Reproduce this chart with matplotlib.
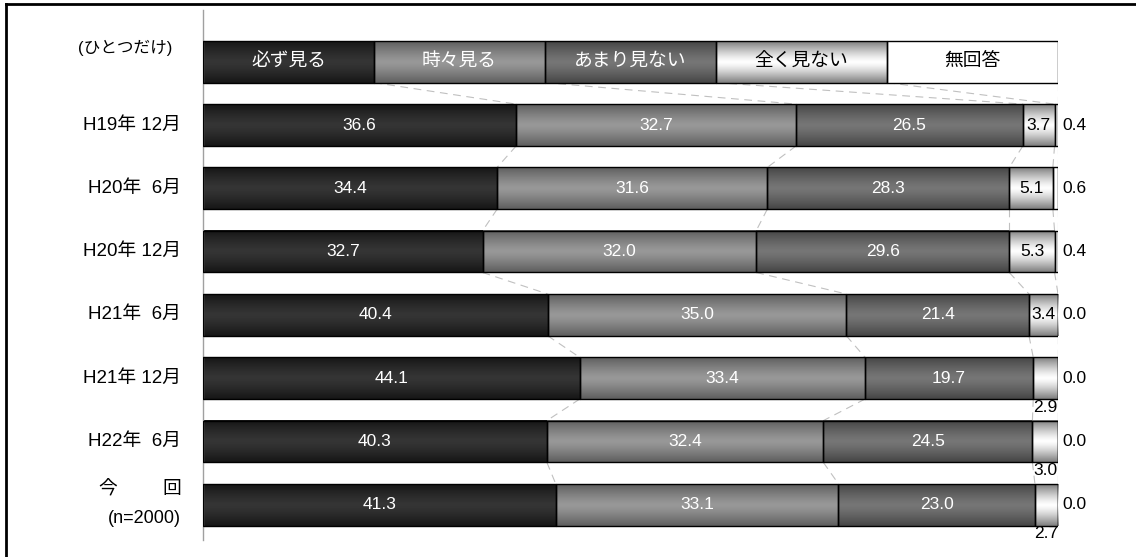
import numpy as np
import matplotlib
matplotlib.use('Agg')
import matplotlib.pyplot as plt
from matplotlib.colors import LinearSegmentedColormap
from matplotlib.patches import Rectangle
from matplotlib.lines import Line2D

plt.rcParams['font.family'] = ['Liberation Sans', 'Noto Sans CJK JP']

# data
categories = ['必ず見る', '時々見る', 'あまり見ない', '全く見ない', '無回答']
rows = ['H19年 12月', 'H20年  6月', 'H20年 12月', 'H21年  6月',
        'H21年 12月', 'H22年  6月', '今回']
kanarazu = [36.6, 34.4, 32.7, 40.4, 44.1, 40.3, 41.3]
tokidoki = [32.7, 31.6, 32.0, 35.0, 33.4, 32.4, 33.1]
amari = [26.5, 28.3, 29.6, 21.4, 19.7, 24.5, 23.0]
mattaku = [3.7, 5.1, 5.3, 3.4, 2.9, 3.0, 2.7]
mukaitou = [0.4, 0.6, 0.4, 0.0, 0.0, 0.0, 0.0]

series = [kanarazu, tokidoki, amari, mattaku, mukaitou]

# (edge colour, centre colour) for the shaded bars
shades = [('#161616', '#353535'), ('#5e5e5e', '#989898'),
          ('#454545', '#767676'), ('#7e7e7e', '#ffffff'),
          ('#ffffff', '#ffffff')]
text_cols = ['white', 'white', 'white', 'black', 'black']
cmaps = [LinearSegmentedColormap.from_list('c%d' % k, [c[1], c[0]]) for k, c in enumerate(shades)]
grad = np.abs(np.linspace(-1, 1, 60)).reshape(-1, 1) ** 1.3

fig = plt.figure(figsize=(11.36, 5.57), dpi=100)
ax = fig.add_axes([203 / 1136, 1 - 540 / 557, 855 / 1136, 530 / 557])

h = 0.66
fs_num = 12.5


def draw_seg(left, width, y, k):
    ax.imshow(grad, cmap=cmaps[k], vmin=0, vmax=1, aspect='auto',
              extent=[left, left + width, y + h / 2, y - h / 2],
              interpolation='bilinear', zorder=2)
    ax.add_patch(Rectangle((left, y - h / 2), width, h, fill=False,
                           edgecolor='black', linewidth=1.0, zorder=3))


# legend row at y = -1
for k, name in enumerate(categories):
    draw_seg(20 * k, 20, -1, k)
    ax.text(20 * k + 10, -1, name, ha='center', va='center', fontsize=13.5,
            color=text_cols[k], zorder=4)

bounds_prev = [20, 40, 60, 80, 100]
y_prev = -1
for i, r in enumerate(rows):
    vals = [s[i] for s in series]
    total = sum(vals)
    left = 0
    bounds = []
    for k, v in enumerate(vals):
        w = v / total * 100
        draw_seg(left, w, i, k)
        cx = left + w / 2
        txt = '%.1f' % v
        if k < 3:
            ax.text(cx, i, txt, ha='center', va='center', fontsize=fs_num,
                    color=text_cols[k], zorder=4)
        elif k == 3:
            if v >= 3.2:
                ax.text(cx, i, txt, ha='center', va='center', fontsize=fs_num,
                        color='black', zorder=4)
            else:
                ax.text(cx, i + h / 2 + 0.01, txt, ha='center', va='top',
                        fontsize=fs_num, color='black', zorder=4)
        else:
            ax.text(100.5, i, txt, ha='left', va='center', fontsize=fs_num,
                    color='black', zorder=4)
        left += w
        bounds.append(left)
    # dashed connectors
    for b0, b1 in zip(bounds_prev, bounds):
        ax.plot([b0, b1], [y_prev + h / 2, i - h / 2], color='#c0c0c0',
                linestyle=(0, (7, 5)), linewidth=0.8, zorder=1)
    bounds_prev = bounds
    y_prev = i

# row labels
lx = (181 - 203) / 855
tr = ax.get_yaxis_transform()
for i, r in enumerate(rows[:-1]):
    ax.text(lx, i, r, transform=tr, ha='right', va='center', fontsize=13.5)
n = len(rows) - 1
ax.text((98 - 203) / 855, n - 0.24, '今', transform=tr, ha='left', va='center', fontsize=13.5)
ax.text(lx, n - 0.24, '回', transform=tr, ha='right', va='center', fontsize=13.5)
ax.text(lx, n + 0.22, '(n=2000)', transform=tr, ha='right', va='center', fontsize=13)
ax.text((172 - 203) / 855, (48 - 125) / 63.3, '(ひとつだけ)', transform=tr,
        ha='right', va='center', fontsize=12)

ax.set_xlim(0, 100)
ax.set_ylim((540 - 125) / 63.3, (10 - 125) / 63.3)
for s in ['top', 'right', 'bottom']:
    ax.spines[s].set_visible(False)
ax.spines['left'].set_color('#a0a0a0')
ax.spines['left'].set_linewidth(1.0)
ax.set_xticks([])
ax.set_yticks([])

# outer frame
fig.add_artist(Line2D([6 / 1136, 6 / 1136], [0, 1 - 4 / 557], color='black',
                      linewidth=2, transform=fig.transFigure))
fig.add_artist(Line2D([6 / 1136, 1], [1 - 4 / 557, 1 - 4 / 557], color='black',
                      linewidth=2, transform=fig.transFigure))

fig.savefig('out.png', dpi=100)
